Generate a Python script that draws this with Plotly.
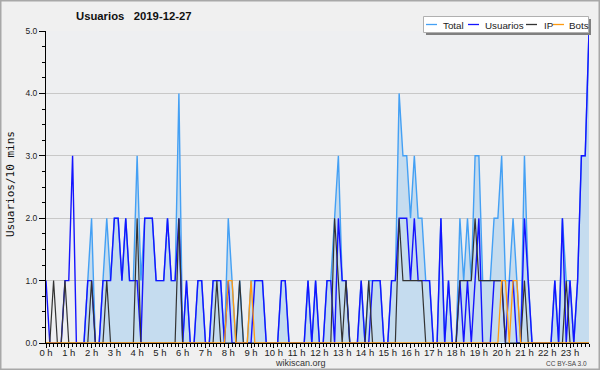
import plotly.graph_objects as go

# ---- data -------------------------------------------------------------
hour_labels = ["0 h", "1 h", "2 h", "3 h", "4 h", "5 h", "6 h", "7 h", "8 h", "9 h",
               "10 h", "11 h", "12 h", "13 h", "14 h", "15 h", "16 h", "17 h", "18 h",
               "19 h", "20 h", "21 h", "22 h", "23 h"]
hour_slots = [0, 6, 12, 18, 24, 30, 36, 42, 48, 54, 60, 66, 72, 78, 84, 90, 96, 102,
              108, 114, 120, 126, 132, 138]
slots = list(range(144))  # 10-minute slots of the day

total = [0, 0, 0, 0, 0, 0, 0, 0, 0, 0,
         0, 1, 2, 0, 0, 1, 2, 1, 2, 2,
         1, 2, 1, 1, 3, 1, 2, 2, 2, 1,
         1, 1, 2, 1, 1, 4, 0, 1, 0, 0,
         1, 1, 0, 0, 1, 1, 1, 0, 2, 1,
         0, 1, 0, 0, 1, 1, 1, 1, 0, 0,
         0, 0, 1, 1, 0, 0, 0, 0, 0, 1,
         0, 1, 0, 0, 1, 1, 2, 3, 1, 1,
         0, 0, 0, 1, 0, 1, 1, 1, 1, 0,
         0, 1, 1, 4, 3, 3, 2, 3, 2, 2,
         1, 1, 0, 0, 2, 0, 1, 0, 0, 2,
         1, 2, 1, 3, 3, 1, 1, 1, 2, 2,
         3, 1, 1, 2, 1, 0, 3, 1, 0, 0,
         0, 0, 0, 0, 1, 0, 2, 1, 1, 0,
         1, 3, 3, 5]

usuarios = [1, 0, 0, 0, 0, 1, 1, 3, 0, 0,
            0, 1, 1, 0, 0, 1, 1, 1, 2, 2,
            1, 2, 1, 1, 1, 0, 2, 2, 2, 1,
            1, 1, 2, 1, 1, 2, 0, 1, 0, 0,
            1, 1, 0, 0, 1, 1, 1, 0, 1, 0,
            0, 0, 0, 0, 0, 1, 1, 1, 0, 0,
            0, 0, 1, 1, 0, 0, 0, 0, 0, 1,
            0, 1, 0, 0, 1, 1, 0, 2, 1, 1,
            0, 0, 0, 1, 0, 0, 1, 1, 1, 0,
            0, 1, 1, 2, 2, 2, 1, 2, 1, 1,
            1, 1, 0, 0, 2, 0, 1, 0, 0, 1,
            0, 1, 0, 1, 2, 0, 0, 0, 1, 1,
            1, 0, 1, 1, 0, 0, 2, 1, 0, 0,
            0, 0, 0, 0, 1, 0, 2, 0, 1, 0,
            1, 3, 3, 5]

ip = [0, 0, 1, 0, 0, 1, 0, 0, 0, 0,
      0, 0, 1, 0, 0, 0, 1, 0, 0, 0,
      0, 0, 0, 0, 2, 0, 0, 0, 0, 0,
      0, 0, 0, 0, 0, 2, 0, 0, 0, 0,
      0, 0, 0, 0, 0, 1, 0, 0, 0, 0,
      0, 1, 0, 0, 0, 0, 0, 0, 0, 0,
      0, 0, 0, 0, 0, 0, 0, 0, 0, 0,
      0, 0, 0, 0, 0, 0, 2, 1, 0, 1,
      0, 0, 0, 0, 0, 1, 0, 0, 0, 0,
      0, 0, 0, 2, 1, 1, 1, 1, 1, 1,
      0, 0, 0, 0, 0, 0, 0, 0, 0, 1,
      1, 1, 1, 2, 1, 1, 1, 1, 1, 1,
      1, 0, 0, 0, 0, 0, 1, 0, 0, 0,
      0, 0, 0, 0, 0, 0, 0, 1, 0, 0,
      0, 0, 0, 0]

bots = [0, 0, 0, 0, 0, 0, 0, 0, 0, 0,
        0, 0, 0, 0, 0, 0, 0, 0, 0, 0,
        0, 0, 0, 0, 0, 0, 0, 0, 0, 0,
        0, 0, 0, 0, 0, 0, 0, 0, 0, 0,
        0, 0, 0, 0, 0, 0, 0, 0, 1, 1,
        0, 0, 0, 0, 1, 0, 0, 0, 0, 0,
        0, 0, 0, 0, 0, 0, 0, 0, 0, 0,
        0, 0, 0, 0, 0, 0, 0, 0, 0, 0,
        0, 0, 0, 0, 0, 0, 0, 0, 0, 0,
        0, 0, 0, 0, 0, 0, 0, 0, 0, 0,
        0, 0, 0, 0, 0, 0, 0, 0, 0, 0,
        0, 0, 0, 0, 0, 0, 0, 0, 0, 0,
        1, 1, 0, 1, 1, 0, 0, 0, 0, 0,
        0, 0, 0, 0, 0, 0, 0, 0, 0, 0,
        0, 0, 0, 0]

series_names = ["Total", "Usuarios", "IP", "Bots"]
series_colors = ["#44a0f4", "#1414ff", "#333333", "#ff9a10"]

# ---- geometry helpers (pixel -> paper) --------------------------------
W, H = 600, 370
ML, MR, MT, MB = 46, 11, 31, 27
PW, PH = W - ML - MR, H - MT - MB


def px(x):
    return (x - ML) / PW


def py(y):
    return (H - MB - y) / PH


FONT = "Liberation Sans, Arial, sans-serif"

fig = go.Figure()
fig.add_trace(go.Scatter(x=slots, y=total, mode="lines", name=series_names[0],
                         line=dict(color=series_colors[0], width=1.4),
                         fill="tozeroy", fillcolor="#c5dcef"))
fig.add_trace(go.Scatter(x=slots, y=usuarios, mode="lines", name=series_names[1],
                         line=dict(color=series_colors[1], width=1.4)))
fig.add_trace(go.Scatter(x=slots, y=ip, mode="lines", name=series_names[2],
                         line=dict(color=series_colors[2], width=1.2)))
fig.add_trace(go.Scatter(x=slots, y=bots, mode="lines", name=series_names[3],
                         line=dict(color=series_colors[3], width=1.3)))

shapes = []
annotations = []

# outer frame
shapes.append(dict(type="rect", xref="paper", yref="paper",
                   x0=px(0.75), x1=px(599.25), y0=py(369.25), y1=py(0.75),
                   line=dict(color="#a8a8a8", width=1.5), layer="above"))

# legend box with shadow
shapes.append(dict(type="rect", xref="paper", yref="paper",
                   x0=px(426), x1=px(591), y0=py(35), y1=py(19),
                   fillcolor="#808080", line=dict(width=0), layer="above"))
shapes.append(dict(type="rect", xref="paper", yref="paper",
                   x0=px(423.5), x1=px(588.5), y0=py(32.5), y1=py(16.5),
                   fillcolor="#ffffff", line=dict(color="#b0b0b0", width=1), layer="above"))
leg_line_x = [426, 468, 526, 553]
leg_text_x = [441, 483, 542, 567]
for name, col, lx, tx in zip(series_names, series_colors, leg_line_x, leg_text_x):
    shapes.append(dict(type="line", xref="paper", yref="paper",
                       x0=px(lx), x1=px(lx + 11), y0=py(24.5), y1=py(24.5),
                       line=dict(color=col, width=1.3), layer="above"))
    annotations.append(dict(text=name, xref="paper", yref="paper", x=px(tx), y=py(25),
                            xanchor="left", yanchor="middle", showarrow=False,
                            font=dict(family=FONT, size=9.8, color="#222222")))

# title
annotations.append(dict(text="<b>Usuarios\u00a0\u00a0 2019-12-27</b>", xref="paper", yref="paper",
                        x=px(74), y=py(16), xanchor="left", yanchor="middle", showarrow=False,
                        font=dict(family=FONT, size=11.3, color="#111111")))
# y axis title
annotations.append(dict(text="Usuarios/10 mins", xref="paper", yref="paper",
                        x=px(10), y=py(184), xanchor="center", yanchor="middle",
                        textangle=-90, showarrow=False,
                        font=dict(family="DejaVu Sans Mono, monospace", size=11, color="#111111")))
# footer
annotations.append(dict(text="wikiscan.org", xref="paper", yref="paper",
                        x=px(300), y=py(362.5), xanchor="center", yanchor="middle", showarrow=False,
                        font=dict(family=FONT, size=9, color="#333333")))
annotations.append(dict(text="CC BY-SA 3.0", xref="paper", yref="paper",
                        x=px(589), y=py(363.5), xanchor="right", yanchor="middle", showarrow=False,
                        font=dict(family=FONT, size=6.5, color="#444444")))

fig.update_layout(
    width=W, height=H,
    margin=dict(l=ML, r=MR, t=MT, b=MB, pad=0, autoexpand=False),
    paper_bgcolor="#f0f0f0",
    plot_bgcolor="#eeeff1",
    showlegend=False,
    shapes=shapes,
    annotations=annotations,
    xaxis=dict(range=[0, 143], tickmode="array", tickvals=hour_slots, ticktext=hour_labels,
               showgrid=False, zeroline=False, showline=True, linecolor="#000000", linewidth=1,
               ticks="outside", ticklen=4, tickcolor="#000000", tickwidth=1,
               ticklabelstandoff=-3,
               tickfont=dict(family=FONT, size=9.5, color="#222222"),
               minor=dict(tickmode="linear", tick0=0, dtick=1, ticks="outside", ticklen=3,
                          tickcolor="#000000", tickwidth=1, showgrid=False),
               fixedrange=True, automargin=False),
    yaxis=dict(range=[0, 5], tickmode="linear", tick0=0, dtick=1, tickformat=".1f",
               showgrid=True, gridcolor="#c8c8c8", gridwidth=1, zeroline=False,
               showline=True, linecolor="#000000", linewidth=1,
               ticks="outside", ticklen=6, tickcolor="#000000", tickwidth=1,
               tickfont=dict(family=FONT, size=8.5, color="#222222"),
               minor=dict(tickmode="linear", tick0=0, dtick=0.25, ticks="outside", ticklen=3,
                          tickcolor="#000000", tickwidth=1, showgrid=False),
               fixedrange=True, automargin=False),
)

fig.write_html("out.html", config={"displayModeBar": False},
               post_script="document.body.style.margin='0px';document.body.style.overflow='hidden';")
